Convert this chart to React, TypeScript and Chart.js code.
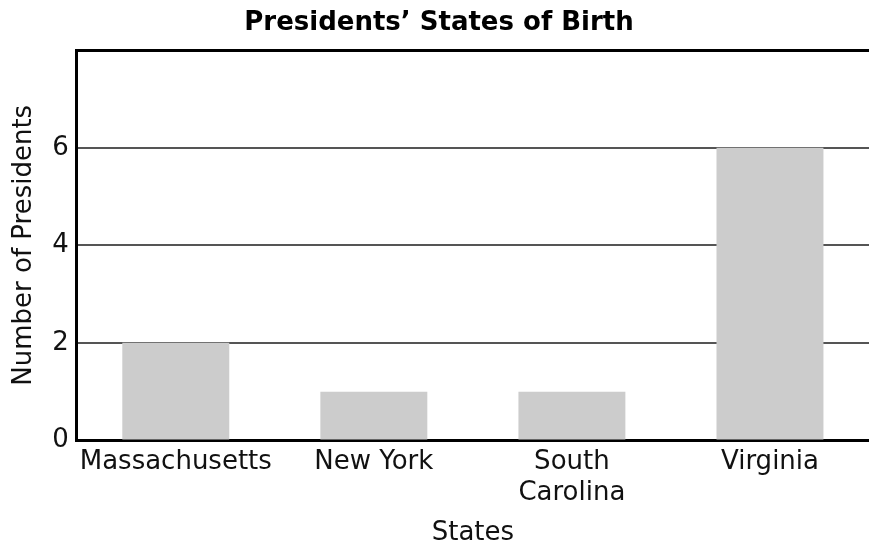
import React, { useEffect, useRef } from "react";
import { Chart, registerables } from "chart.js";

Chart.register(...registerables);

const categories: (string | string[])[] = ["Massachusetts", "New York", ["South", "Carolina"], "Virginia"];
const presidents: number[] = [2, 1, 1, 6];
const yTicks: number[] = [0, 2, 4, 6, 8];
const chartTitle = "Presidents’ States of Birth";
const xTitle = "States";
const yTitle = "Number of Presidents";

export default function App() {
  const ref = useRef<HTMLCanvasElement | null>(null);
  useEffect(() => {
    document.body.style.margin = "0";
    const ctx = ref.current!;
    const font = "'DejaVu Sans', Verdana, sans-serif";
    const chart = new Chart(ctx, {
      type: "bar",
      data: {
        labels: categories,
        datasets: [
          {
            data: presidents,
            backgroundColor: "#cccccc",
            borderWidth: 0,
            barPercentage: 0.54,
            categoryPercentage: 1,
          },
        ],
      },
      options: {
        animation: false,
        responsive: false,
        layout: { padding: { left: 9, right: 0, top: 8, bottom: 0 } },
        plugins: {
          legend: { display: false },
          tooltip: { enabled: false },
          title: {
            display: true,
            text: chartTitle,
            color: "#000",
            font: { family: font, size: 26, weight: "bold" },
            padding: { top: 0, bottom: 11 },
          },
        },
        scales: {
          x: {
            grid: { display: false, drawTicks: false },
            border: { color: "#000", width: 3 },
            ticks: {
              color: "#111",
              font: { family: font, size: 26, lineHeight: 1.2 },
              padding: 6,
              maxRotation: 0,
              autoSkip: false,
            },
            title: {
              display: true,
              text: xTitle,
              color: "#111",
              font: { family: font, size: 26, lineHeight: 1.2 },
              padding: { top: 3, bottom: 0 },
            },
          },
          y: {
            min: 0,
            max: 8,
            afterBuildTicks: (axis: any) => {
              axis.ticks = yTicks.map((v) => ({ value: v }));
            },
            grid: {
              drawTicks: false,
              color: (c: any) => (c.tick && c.tick.value === 8 ? "#000" : "#555"),
              lineWidth: (c: any) => (c.tick && c.tick.value === 8 ? 3 : 2),
            },
            border: { color: "#000", width: 3 },
            ticks: {
              color: "#111",
              font: { family: font, size: 26 },
              padding: 8,
              callback: (v: any) => (v === 8 ? "" : String(v)),
            },
            title: {
              display: true,
              text: yTitle,
              color: "#111",
              font: { family: font, size: 26, lineHeight: 1.2 },
              padding: { top: 0, bottom: 4 },
            },
          },
        },
      },
    });
    return () => chart.destroy();
  }, []);
  return <canvas ref={ref} width={869} height={549} style={{ display: "block" }} />;
}
